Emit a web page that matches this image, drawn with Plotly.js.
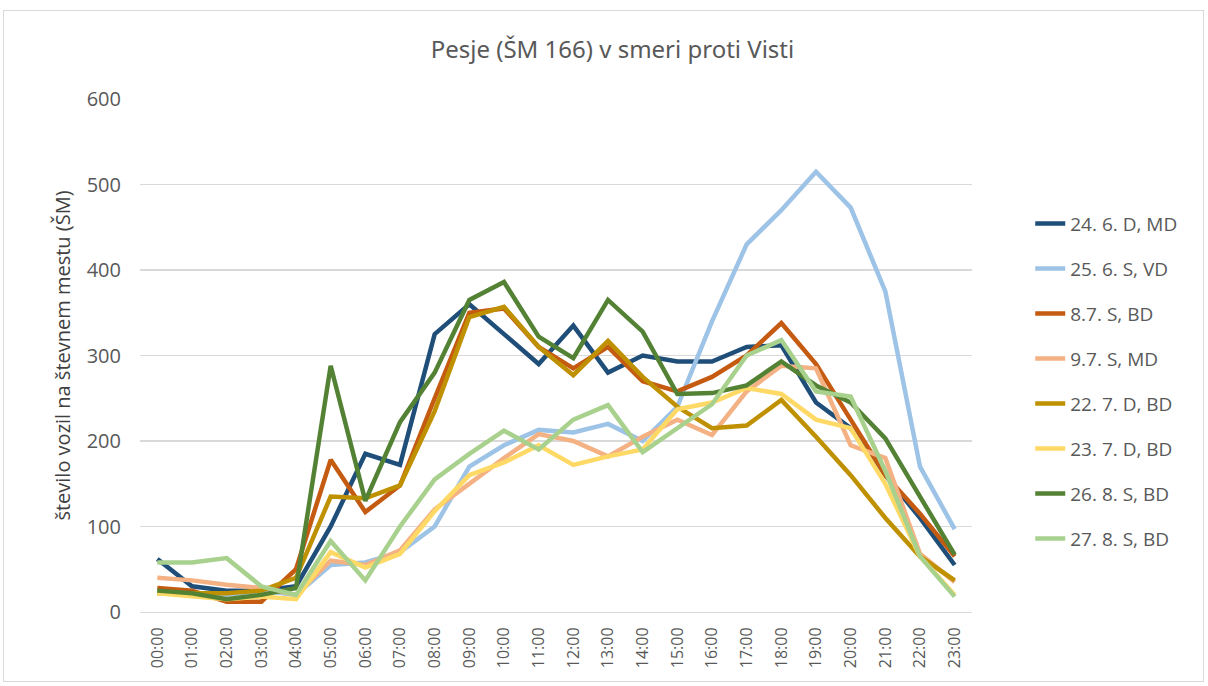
<!DOCTYPE html>
<html>
<head>
<meta charset="utf-8">
<script src="https://cdn.plot.ly/plotly-3.0.1.min.js"></script>
<style>
  html, body { margin: 0; padding: 0; background: #fff; }
  #frame { position: absolute; left: 3px; top: 10px; width: 1201px; height: 672px; border: 1px solid #d9d9d9; box-sizing: border-box; pointer-events: none; }
  #chart { width: 1208px; height: 686px; }
</style>
</head>
<body>
<div id="chart"></div>
<div id="frame"></div>
<script>
const hours = ["00:00","01:00","02:00","03:00","04:00","05:00","06:00","07:00","08:00","09:00","10:00","11:00",
               "12:00","13:00","14:00","15:00","16:00","17:00","18:00","19:00","20:00","21:00","22:00","23:00"];

const seriesNames = ["24. 6. D, MD","25. 6. S, VD","8.7. S, BD","9.7. S, MD","22. 7. D, BD","23. 7. D, BD","26. 8. S, BD","27. 8. S, BD"];

const s_24_6 = [62,30,25,25,30,100,185,172,325,360,325,290,335,280,300,293,293,310,312,245,215,160,110,55];
const s_25_6 = [25,22,20,25,20,55,58,70,100,170,195,213,210,220,200,240,340,430,470,515,473,375,170,97];
const s_8_7  = [28,25,12,12,50,178,117,148,250,350,355,310,285,310,270,258,275,300,338,290,225,160,115,65];
const s_9_7  = [40,37,32,28,20,60,55,72,120,150,180,208,200,182,205,225,207,258,288,285,195,180,68,35];
const s_22_7 = [22,22,22,25,40,135,133,148,235,345,357,310,277,317,275,240,215,218,248,205,160,110,65,37];
const s_23_7 = [22,18,15,18,15,70,52,68,118,160,175,195,172,182,190,237,245,262,255,225,215,150,65,20];
const s_26_8 = [25,22,15,20,28,288,130,222,280,365,386,322,297,365,328,255,256,265,293,265,245,203,135,67];
const s_27_8 = [58,58,63,30,20,83,37,100,155,185,212,190,225,242,187,215,243,300,318,258,252,165,65,18];

const seriesValues = [s_24_6, s_25_6, s_8_7, s_9_7, s_22_7, s_23_7, s_26_8, s_27_8];
const colors = ["#1f4e79","#9dc3e6","#c55a11","#f4b183","#bf9000","#ffd966","#548235","#a9d18e"];

const traces = seriesNames.map((name, i) => ({
  type: "scatter",
  mode: "lines",
  name: name,
  x: hours,
  y: seriesValues[i],
  line: { color: colors[i], width: 4.5 },
  legendgroup: "g" + i
}));

const layout = {
  width: 1208,
  height: 686,
  paper_bgcolor: "#ffffff",
  plot_bgcolor: "#ffffff",
  margin: { l: 140, r: 236, t: 99, b: 74 },
  font: { family: "Open Sans, Noto Sans, sans-serif", color: "#595959" },
  title: {
    text: "Pesje (ŠM 166) v smeri proti Visti",
    font: { size: 24, color: "#595959", family: "Noto Sans, sans-serif" },
    x: 0.507, xanchor: "center", y: 0.927, yanchor: "middle"
  },
  xaxis: {
    type: "category",
    range: [-0.5, 23.5],
    tickangle: -90,
    tickfont: { size: 16, color: "#595959" },
    ticklabelstandoff: 8,
    showgrid: false,
    showline: true,
    linecolor: "#d9d9d9",
    linewidth: 1,
    ticks: "",
    zeroline: false
  },
  yaxis: {
    range: [0, 600],
    dtick: 100,
    tickfont: { size: 20, color: "#595959" },
    gridcolor: "#d9d9d9",
    gridwidth: 1.3,
    zeroline: false,
    showline: false,
    ticks: "",
    ticklabelstandoff: 18,
    title: { text: "število vozil na števnem mestu (ŠM)", font: { size: 20, color: "#404040" }, standoff: 10 }
  },
  showlegend: true,
  legend: {
    x: 1.07, xanchor: "left",
    y: 0.794, yanchor: "top",
    font: { size: 19, color: "#595959" },
    tracegroupgap: 17.3,
    itemwidth: 30,
    bgcolor: "rgba(0,0,0,0)"
  }
};

Plotly.newPlot("chart", traces, layout, { displayModeBar: false, staticPlot: true });
</script>
</body>
</html>
